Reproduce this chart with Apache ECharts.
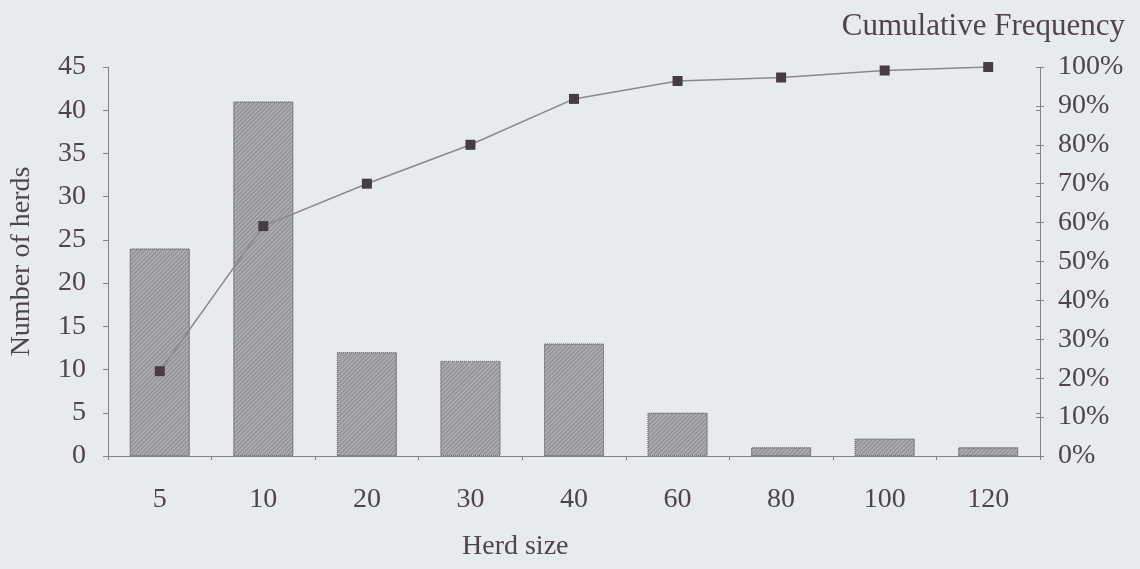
<!DOCTYPE html>
<html>
<head>
<meta charset="utf-8">
<script src="https://cdn.jsdelivr.net/npm/echarts@6/dist/echarts.min.js"></script>
<style>
html, body { margin: 0; padding: 0; background: #e8ebed; }
#chart { width: 1140px; height: 569px; }
</style>
</head>
<body>
<div id="chart"></div>
<script>
// herd size classes and counts
var herdSizes = ['5', '10', '20', '30', '40', '60', '80', '100', '120'];
var herdCounts = [24, 41, 12, 11, 13, 5, 1, 2, 1];
var cumulativePct = [21.8, 59.1, 70.0, 80.0, 91.8, 96.4, 97.3, 99.1, 100];

var txt = '#4f444d';
var axisCol = '#858388';
var serif = '"Liberation Serif", "DejaVu Serif", serif';

// a bare copy of an axis that only draws inward ticks, so ticks cross the line
function innerTicks(base) {
  return Object.assign({}, base, {
    name: '',
    axisLine: { show: false },
    axisLabel: { show: false },
    splitLine: { show: false },
    axisTick: { show: true, inside: true, length: 4, lineStyle: { color: axisCol } }
  });
}

var leftAxis = {
  type: 'value', min: 0, max: 45, interval: 5,
  name: 'Number of herds', nameLocation: 'middle', nameGap: 72,
  nameTextStyle: { fontFamily: serif, fontSize: 28, color: txt },
  splitLine: { show: false },
  axisLine: { show: true, lineStyle: { color: axisCol, width: 1 } },
  axisTick: { show: true, length: 5, lineStyle: { color: axisCol } },
  axisLabel: { fontFamily: serif, fontSize: 28, color: txt, margin: 22 }
};
var rightAxis = {
  type: 'value', min: 0, max: 100, interval: 10, position: 'right',
  splitLine: { show: false },
  axisLine: { show: true, lineStyle: { color: axisCol, width: 1 } },
  axisTick: { show: true, length: 4, lineStyle: { color: axisCol } },
  axisLabel: { fontFamily: serif, fontSize: 28, color: txt, margin: 18, formatter: '{value}%' }
};
var bottomAxis = {
  type: 'category',
  data: herdSizes,
  axisLine: { lineStyle: { color: axisCol, width: 1 } },
  axisTick: { show: true, length: 4, lineStyle: { color: axisCol } },
  axisLabel: { fontFamily: serif, fontSize: 28, color: txt, margin: 30 }
};

var chart = echarts.init(document.getElementById('chart'));
chart.setOption({
  backgroundColor: '#e8ebed',
  animation: false,
  textStyle: { fontFamily: serif, color: txt },
  title: [
    { text: 'Cumulative Frequency', right: 10, top: 6,
      textStyle: { fontFamily: serif, fontSize: 31, fontWeight: 'normal', color: txt } },
    { text: 'Herd size', left: 457, top: 528,
      textStyle: { fontFamily: serif, fontSize: 28, fontWeight: 'normal', color: txt } }
  ],
  grid: { left: 107, right: 100, top: 67, bottom: 113 },
  xAxis: [bottomAxis, innerTicks(bottomAxis)],
  yAxis: [leftAxis, rightAxis, innerTicks(leftAxis), innerTicks(rightAxis)],
  series: [
    {
      type: 'bar',
      data: herdCounts,
      barWidth: 60,
      itemStyle: {
        color: '#adadb1',
        borderColor: '#6e6a72',
        borderWidth: 1,
        borderType: 'dotted',
        decal: {
          symbol: 'rect',
          color: '#88878c',
          dashArrayX: [1, 0],
          dashArrayY: [1, 2],
          rotation: -Math.PI / 4
        }
      }
    },
    {
      type: 'line',
      yAxisIndex: 1,
      data: cumulativePct,
      symbol: 'rect',
      symbolSize: 10,
      lineStyle: { color: '#8a878c', width: 1.5 },
      itemStyle: { color: '#463c45' }
    }
  ]
});
</script>
</body>
</html>
